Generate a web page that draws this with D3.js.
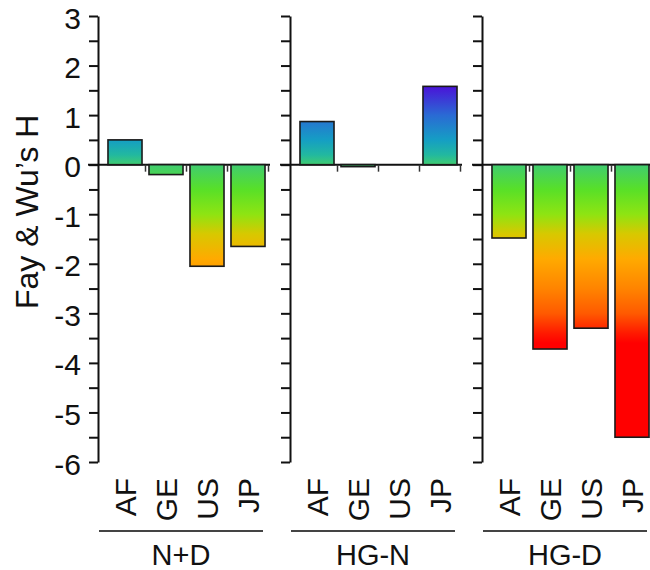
<!DOCTYPE html>
<html>
<meta charset="utf-8">
<style>
  body { margin: 0; background: #fff; }
  text { font-family: "Liberation Sans", Arial, sans-serif; fill: #111; }
  .axis path, .axis line { stroke: #111; stroke-width: 2px; fill: none; }
</style>
<svg width="650" height="570"></svg>
<script src="https://d3js.org/d3.v7.min.js"></script>
<script>
  // categories and groups
  var categories = ["AF", "GE", "US", "JP"];
  var groups = ["N+D", "HG-N", "HG-D"];

  // Fay & Wu's H for each group, in category order
  var valuesND = [0.5, -0.2, -2.05, -1.65];
  var valuesHGN = [0.87, -0.04, 0, 1.58];
  var valuesHGD = [-1.48, -3.72, -3.3, -5.5];
  var groupValues = [valuesND, valuesHGN, valuesHGD];

  var yTicks = [3, 2, 1, 0, -1, -2, -3, -4, -5, -6];

  // colour along the value axis (value, colour)
  var gradValues = [1.6, 1.0, 0.5, 0.2, 0.0, -0.5, -1.0, -1.4, -1.9, -2.5, -3.0, -3.4, -3.6];
  var gradColors = ["#4b10d8", "#2a6ad4", "#159ec4", "#22b8a0", "#40cc70", "#58e028", "#8ee412",
    "#d8c800", "#ffaa00", "#ff8400", "#ff5a00", "#ff1a00", "#ff0000"];

  var svg = d3.select("svg");

  var y = d3.scaleLinear().domain([-6, 3]).range([462, 16]);

  var axisX = [98, 290, 482]; // left edge of each panel
  var panelW = 172;

  var defs = svg.append("defs");
  var g0 = y(gradValues[0]), g1 = y(gradValues[gradValues.length - 1]);
  var grad = defs.append("linearGradient")
    .attr("id", "hgrad")
    .attr("gradientUnits", "userSpaceOnUse")
    .attr("x1", 0).attr("x2", 0)
    .attr("y1", g0)
    .attr("y2", g1);
  grad.selectAll("stop")
    .data(gradValues)
    .enter().append("stop")
    .attr("offset", function (d) { return (y(d) - g0) / (g1 - g0); })
    .attr("stop-color", function (d, i) { return gradColors[i]; });

  groups.forEach(function (grp, gi) {
    var ax = axisX[gi];
    var vals = groupValues[gi];
    var x = d3.scaleBand()
      .domain(categories)
      .range([ax + 6.5, ax + 6.5 + 164])
      .paddingInner(0.17)
      .paddingOuter(0.085);
    var step = x.step();

    var g = svg.append("g");

    // zero line
    g.append("line")
      .attr("x1", ax - 10).attr("x2", Math.min(ax + panelW, 650))
      .attr("y1", y(0)).attr("y2", y(0))
      .attr("stroke", "#111").attr("stroke-width", 2);

    // small ticks at category boundaries
    g.selectAll(".ctick")
      .data(categories)
      .enter().append("line")
      .attr("x1", function (d) { return x(d) + x.bandwidth() + step * 0.085; })
      .attr("x2", function (d) { return x(d) + x.bandwidth() + step * 0.085; })
      .attr("y1", y(0)).attr("y2", y(0) + 7)
      .attr("stroke", "#333").attr("stroke-width", 1.5);

    // bars
    g.selectAll("rect")
      .data(categories.filter(function (c, i) { return vals[i] !== 0; }))
      .enter().append("rect")
      .attr("x", function (c) { return x(c); })
      .attr("width", x.bandwidth())
      .attr("y", function (c) { return y(Math.max(0, vals[categories.indexOf(c)])); })
      .attr("height", function (c) { return Math.abs(y(vals[categories.indexOf(c)]) - y(0)); })
      .attr("fill", "url(#hgrad)")
      .attr("stroke", "#1a1a1a")
      .attr("stroke-width", 1.6);

    // y axis
    var minor = d3.range(-6, 3.01, 0.5);
    var yAxis = d3.axisLeft(y)
      .tickValues(minor)
      .tickSize(9)
      .tickSizeOuter(0)
      .tickPadding(8)
      .tickFormat(function (d) { return (gi === 0 && yTicks.indexOf(d) >= 0) ? d : ""; });
    var ag = g.append("g")
      .attr("class", "axis")
      .attr("transform", "translate(" + ax + ",0)")
      .call(yAxis);
    ag.selectAll("text").style("font-size", "30px").attr("dy", "0.4em").attr("fill", "#111");

    // category labels
    g.selectAll(".clab")
      .data(categories)
      .enter().append("text")
      .attr("transform", function (d) {
        return "translate(" + (x(d) + x.bandwidth() / 2) + ",478) rotate(-90)";
      })
      .attr("dy", "0.36em")
      .attr("text-anchor", "end")
      .style("font-size", "30px")
      .text(function (d) { return d; });

    // group line and label
    var lx1 = ax + 1, lx2 = Math.min(ax + 165, 650);
    g.append("line")
      .attr("x1", lx1).attr("x2", lx2)
      .attr("y1", 531).attr("y2", 531)
      .attr("stroke", "#444").attr("stroke-width", 2);
    g.append("text")
      .attr("x", (lx1 + lx2) / 2)
      .attr("y", 565)
      .attr("text-anchor", "middle")
      .style("font-size", "29px")
      .text(grp);
  });

  // y title
  svg.append("text")
    .attr("transform", "translate(38,309) rotate(-90)")
    .attr("text-anchor", "start")
    .style("font-size", "32px")
    .text("Fay & Wu\u2019s H");
</script>
</html>
